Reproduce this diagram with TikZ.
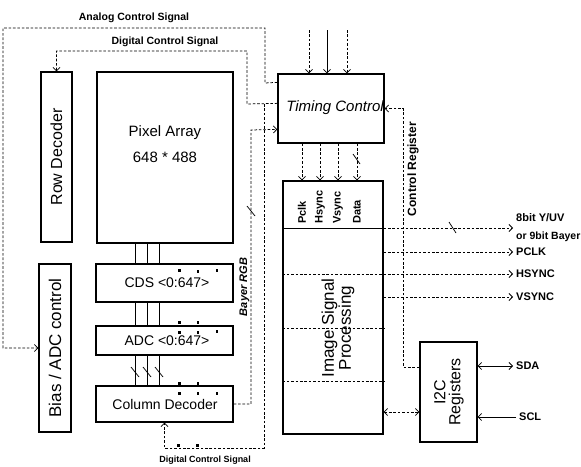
\documentclass[tikz,border=0pt]{standalone}
\usepackage{fontspec}
\setmainfont{Liberation Sans}
\usetikzlibrary{arrows.meta}
\begin{document}
\begin{tikzpicture}[x=1pt,y=-1pt,
  box/.style={draw, line width=1.3pt, inner sep=0pt},
  dsh/.style={line width=0.75pt, dash pattern=on 2.6pt off 1.8pt},
  sol/.style={line width=0.75pt},
  >={Straight Barb[length=3.5pt,width=7pt]},
  lbl/.style={font=\bfseries\fontsize{10.5}{12}\selectfont, inner sep=0pt},
  big/.style={font=\fontsize{#1}{#1}\selectfont, inner sep=0pt, align=center},
  sq/.style={fill=black}
  ]
\useasboundingbox[fill=white] (0,0) rectangle (581,466);

% boxes
\node[box, minimum width=31pt, minimum height=170pt] (row) at (56.5,157) {};
\node[box, minimum width=136pt, minimum height=171pt] (pix) at (165,157.5) {};
\node[box, minimum width=137pt, minimum height=38pt] (cds) at (164.5,283) {};
\node[box, minimum width=137pt, minimum height=29pt] (adc) at (164.5,340.5) {};
\node[box, minimum width=137pt, minimum height=36pt] (col) at (164.5,404) {};
\node[box, minimum width=32pt, minimum height=168pt] (bias) at (55,348) {};
\node[box, minimum width=106pt, minimum height=69pt] (tc) at (331,108.5) {};
\node[box, minimum width=100pt, minimum height=253pt] (isp) at (333,307.5) {};
\node[box, minimum width=57pt, minimum height=100pt] (i2c) at (448.5,392) {};

% box texts
\node[big=16, rotate=90] at (row.center) {Row Decoder};
\node[big=17, rotate=90] at (bias.center) {Bias / ADC control};
\node[big=15] at (165,133) {Pixel Array};
\node[big=15] at (165,157) {648 * 488};
\node[big=14] at (167,283) {CDS <0:647>};
\node[big=14] at (167,340.5) {ADC <0:647>};
\node[big=14] at (165,404) {Column Decoder};
\node[inner sep=0pt, font=\itshape\fontsize{15}{15}\selectfont] at (335,108) {Timing Control};
\node[rotate=90, align=center, inner sep=0pt, font=\fontsize{17}{17}\selectfont] at (338,328) {Image Signal\\Processing};
\node[rotate=90, align=center, inner sep=0pt, font=\fontsize{16}{15}\selectfont] at (449,392) {I2C\\Registers};

% column buses
\coordinate (c1) at (135,0);
\coordinate (c2) at (147,0);
\coordinate (c3) at (159,0);
\foreach \c in {c1,c2,c3} {
  \draw[sol] (\c |- pix.south) -- (\c |- cds.north);
  \draw[sol] (\c |- cds.south) -- (\c |- adc.north);
  \draw[sol] (\c |- adc.south) -- (\c |- col.north);
}
\foreach \x in {135,147,159} \draw[sol] (\x-4,367) -- (\x+4,377);

% small marks
\foreach \p in {(178,269),(196.5,270),(215.5,269),
                (178,321),(196.5,321),(178,331),(196.5,331),(215.5,330),
                (178,382),(196.5,382),(178,392),(196.5,392),(215.5,392),
                (177,444),(196,444)}
  \fill \p rectangle ++(2.5,2.5);

% analog control signal
\draw[dsh,->] ([yshift=-9pt]tc.north west) -- (265,83) -- (265,28) -- (3,28) |- (bias.west);
\node[lbl] at (134,18) {Analog Control Signal};

% digital control signal (top)
\coordinate (jd) at (264,104);
\draw[dsh,->] ([yshift=-30pt]tc.north west) -- (247,104) -- (247,51) -| (row.north);
\node[lbl] at (165,42) {Digital Control Signal};
\draw[dsh,->] (jd) -- (264,448) -| (col.south);
\node[lbl, font=\bfseries\fontsize{9}{10}\selectfont] at (205,460) {Digital Control Signal};

% Bayer RGB
\draw[dsh,->] (col.east) -| (251,130) -- ([yshift=-56pt]tc.north west);
\draw[sol] (247,206) -- (255,216);
\node[lbl, rotate=90, font=\bfseries\itshape\fontsize{11}{12}\selectfont] at (244.5,287) {Bayer RGB};

% inputs to timing control
\coordinate (i1) at (309,30);
\coordinate (i2) at (327,30);
\coordinate (i3) at (347,30);
\draw[dsh,->] (i1) -- (i1 |- tc.north);
\draw[sol,->] (i2) -- (i2 |- tc.north);
\draw[dsh,->] (i3) -- (i3 |- tc.north);

% timing control to ISP
\foreach \x/\t [count=\i] in {302/Pclk,320/Hsync,338/Vsync,357/Data} {
  \coordinate (p\i) at (\x,0);
  \draw[dsh,->] (p\i |- tc.south) -- (p\i |- isp.north);
  \node[lbl, font=\bfseries\fontsize{11}{12}\selectfont, rotate=90, anchor=west] at (\x,224) {\t};
}
\draw[sol] (353,154) -- (360,164);

% ISP outputs
\coordinate (ox) at (513,0);
\coordinate (o1) at (0,228);
\coordinate (o2) at (0,252);
\coordinate (o3) at (0,274);
\coordinate (o4) at (0,297);
\coordinate (d1) at (0,328);
\coordinate (d2) at (0,381);
\draw[line width=1pt] (o1 -| isp.west) -- (o1 -| isp.east);
\draw[dsh,->] (o1 -| isp.east) -- (o1 -| ox);
\draw[dsh,->] (o2 -| isp.east) -- (o2 -| ox);
\draw[dsh,->] (o3 -| isp.west) -- (o3 -| ox);
\draw[dsh,->] (o4 -| isp.east) -- (o4 -| ox);
\draw[dsh] (d1 -| isp.west) -- (d1 -| isp.east);
\draw[dsh] (d2 -| isp.west) -- (d2 -| isp.east);
\draw[sol] (449,222) -- (456,233);
\node[lbl, anchor=west, font=\bfseries\fontsize{11}{12}\selectfont] at (516,218) {8bit Y/UV};
\node[lbl, anchor=west] at (516,237) {or 9bit Bayer};
\node[lbl, anchor=west, font=\bfseries\fontsize{11}{12}\selectfont] at (516,252) {PCLK};
\node[lbl, anchor=west, font=\bfseries\fontsize{11}{12}\selectfont] at (516,274) {HSYNC};
\node[lbl, anchor=west, font=\bfseries\fontsize{11}{12}\selectfont] at (516,297) {VSYNC};

% control register
\draw[dsh,->] ([yshift=25pt]i2c.west) -- (403,367) |- (tc.east);
\node[lbl, rotate=90, font=\bfseries\fontsize{12}{13}\selectfont] at (413,169) {Control Register};

% ISP <-> I2C
\coordinate (q) at (0,412);
\draw[dsh,<->] (q -| isp.east) -- (q -| i2c.west);

% SDA / SCL
\coordinate (sd) at (513,366);
\coordinate (sc) at (516,417);
\draw[sol,<->] (sd -| i2c.east) -- (sd);
\draw[sol,->] (sc) -- (sc -| i2c.east);
\node[lbl, anchor=west, font=\bfseries\fontsize{11}{12}\selectfont] at (516,366) {SDA};
\node[lbl, anchor=west, font=\bfseries\fontsize{11}{12}\selectfont] at (519,417) {SCL};
\end{tikzpicture}
\end{document}
